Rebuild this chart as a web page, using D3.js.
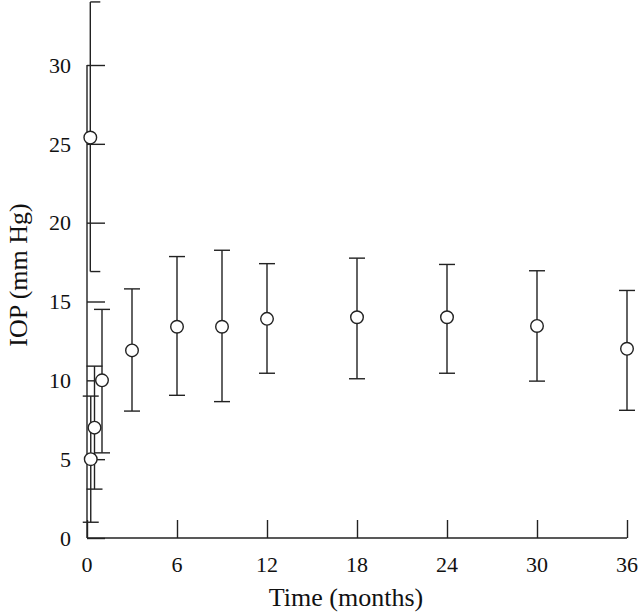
<!DOCTYPE html>
<html>
<head>
<meta charset="utf-8">
<script src="https://cdn.jsdelivr.net/npm/d3@7"></script>
<style>
  body { margin: 0; background: #fff; }
  svg text { font-family: "Liberation Serif", "DejaVu Serif", serif; fill: #111; }
</style>
</head>
<body>
<svg width="640" height="614"></svg>
<script>
// time after surgery (months), mean IOP and error bar ends (mm Hg)
var months = [0.22, 0.25, 0.5, 1, 3, 6, 9, 12, 18, 24, 30, 36];
var iopMean = [25.4, 5.0, 7.0, 10.0, 11.9, 13.4, 13.4, 13.9, 14.0, 14.0, 13.45, 12.0];
var iopLow  = [16.9, 1.0, 3.1, 5.4, 8.05, 9.05, 8.65, 10.45, 10.1, 10.45, 9.95, 8.1];
var iopHigh = [34.0, 9.0, 10.9, 14.5, 15.8, 17.85, 18.25, 17.4, 17.75, 17.35, 16.95, 15.7];
var xTicks = [0, 6, 12, 18, 24, 30, 36];
var yTicks = [0, 5, 10, 15, 20, 25, 30];

var data = months.map((m, i)=>{
    return {t: m, mean: iopMean[i], lo: iopLow[i], hi: iopHigh[i]}
});

var svg = d3.select("svg");
var x = d3.scaleLinear().domain([0, 36]).range([87, 627]);
var y = d3.scaleLinear().domain([0, 30]).range([538, 65]);
var ink = "#222";

// x axis (ticks point up into the plot)
var xAxis = svg.append("g")
    .attr("transform", "translate(0,538)")
    .call(d3.axisTop(x).tickValues(xTicks).tickSize(18).tickFormat(""));
xAxis.select(".domain").attr("d", "M87,0H627").attr("stroke", ink).attr("stroke-width", 1.4);
xAxis.selectAll(".tick line").attr("stroke", ink).attr("stroke-width", 1.4);

svg.selectAll(".xlab")
    .data(xTicks)
    .enter()
    .append("text")
        .classed("xlab", true)
        .attr("x", d=>x(d))
        .attr("y", 572)
        .attr("text-anchor", "middle")
        .style("font-size", "22px")
        .text(d=>d);

// y axis (ticks point right)
var yAxis = svg.append("g")
    .attr("transform", "translate(87,0)")
    .call(d3.axisRight(y).tickValues(yTicks).tickSize(18).tickFormat(""));
yAxis.select(".domain").attr("d", "M0,538V65").attr("stroke", ink).attr("stroke-width", 1.4);
yAxis.selectAll(".tick line").attr("stroke", ink).attr("stroke-width", 1.4);

svg.selectAll(".ylab")
    .data(yTicks)
    .enter()
    .append("text")
        .classed("ylab", true)
        .attr("x", 71)
        .attr("y", d=>y(d))
        .attr("dy", "0.35em")
        .attr("text-anchor", "end")
        .style("font-size", "22px")
        .text(d=>d);

// axis titles
svg.append("text")
    .attr("x", 346)
    .attr("y", 606)
    .attr("text-anchor", "middle")
    .style("font-size", "26px")
    .text("Time (months)");

svg.append("text")
    .attr("transform", "translate(27,275) rotate(-90)")
    .attr("text-anchor", "middle")
    .style("font-size", "26px")
    .text("IOP (mm Hg)");

// error bars
var bars = svg.selectAll(".bar")
    .data(data)
    .enter()
    .append("g")
        .classed("bar", true)
        .attr("stroke", ink)
        .attr("stroke-width", 1.4)
        .attr("fill", "none");

bars.append("line")
    .attr("x1", d=>x(d.t)).attr("x2", d=>x(d.t))
    .attr("y1", d=>y(d.lo)).attr("y2", d=>y(d.hi));

// first bar only has half caps in the original figure
bars.append("line")
    .attr("x1", (d, i)=>x(d.t) - (i === 0 ? 0 : 8))
    .attr("x2", (d, i)=>x(d.t) + (i === 0 ? 10 : 8))
    .attr("y1", d=>y(d.hi)).attr("y2", d=>y(d.hi));

bars.append("line")
    .attr("x1", (d, i)=>x(d.t) - (i === 0 ? 0 : 8))
    .attr("x2", (d, i)=>x(d.t) + (i === 0 ? 10 : 8))
    .attr("y1", d=>y(d.lo)).attr("y2", d=>y(d.lo));

// mean markers
svg.selectAll(".pt")
    .data(data)
    .enter()
    .append("circle")
        .classed("pt", true)
        .attr("cx", d=>x(d.t))
        .attr("cy", d=>y(d.mean))
        .attr("r", 6.3)
        .attr("fill", "#fff")
        .attr("stroke", ink)
        .attr("stroke-width", 1.4);
</script>
</body>
</html>
